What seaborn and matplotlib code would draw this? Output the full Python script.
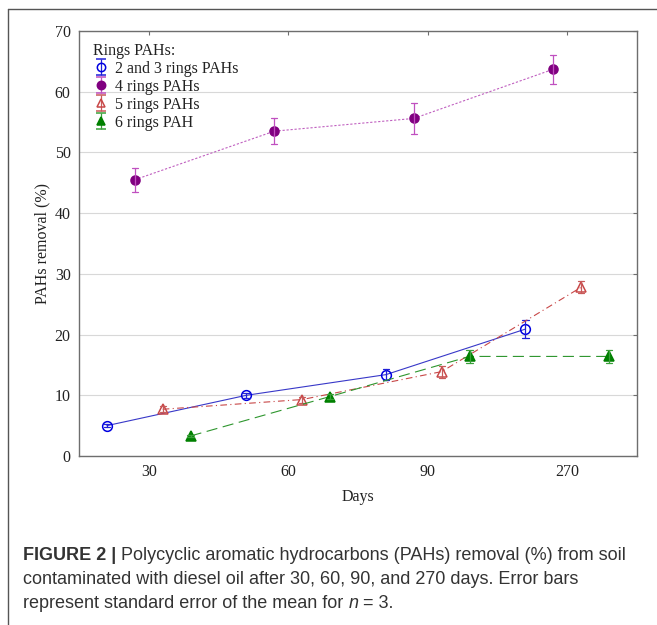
import numpy as np
import pandas as pd
import seaborn as sns
import matplotlib
matplotlib.use("Agg")
import matplotlib.pyplot as plt
from matplotlib.lines import Line2D

# ---------------- data ----------------
days = ["30", "60", "90", "270"]
series = ["2 and 3 rings PAHs", "4 rings PAHs", "5 rings PAHs", "6 rings PAH"]

ring23 = [5.0, 10.0, 13.4, 20.9]
ring23_se = [0.3, 0.4, 0.9, 1.5]
ring4 = [45.5, 53.5, 55.6, 63.7]
ring4_se = [2.0, 2.1, 2.5, 2.4]
ring5 = [7.7, 9.3, 13.9, 27.8]
ring5_se = [0.5, 0.5, 1.0, 1.0]
ring6 = [3.3, 9.8, 16.4, 16.4]
ring6_se = [0.15, 0.4, 1.1, 1.1]

y_ticks = [0, 10, 20, 30, 40, 50, 60, 70]

means = {series[0]: ring23, series[1]: ring4, series[2]: ring5, series[3]: ring6}
ses = {series[0]: ring23_se, series[1]: ring4_se, series[2]: ring5_se, series[3]: ring6_se}

# long table: each point stored as (mean - se, mean + se) so that
# mean estimator gives the value and the 100% interval gives the error bar
rows = []
for s in series:
    for d, m, e in zip(days, means[s], ses[s]):
        rows.append({"Days": d, "removal": m - e, "Rings": s})
        rows.append({"Days": d, "removal": m + e, "Rings": s})
df = pd.DataFrame(rows)

# ---------------- style ----------------
sns.set_theme(style="white")
plt.rcParams["font.family"] = ["Liberation Serif", "DejaVu Serif"]

line_col = {series[0]: "#3838c8", series[1]: "#c060c0", series[2]: "#c84848", series[3]: "#2e962e"}
mark_edge = {series[0]: "#0000e0", series[1]: "#800080", series[2]: "#c84848", series[3]: "#008000"}
mark_face = {series[0]: "none", series[1]: "#800080", series[2]: "none", series[3]: "#008000"}
err_col = {series[0]: "#2020d8", series[1]: "#c050c0", series[2]: "#c85a5a", series[3]: "#3aa03a"}
markers = {series[0]: "o", series[1]: "o", series[2]: "^", series[3]: "^"}
lstyles = {series[0]: "-", series[1]: (0, (2, 1.6)), series[2]: (0, (6, 3, 1, 3)), series[3]: (0, (10, 5))}
msize = {series[0]: 7.0, series[1]: 6.5, series[2]: 6.5, series[3]: 6.5}

fig = plt.figure(figsize=(6.57, 6.25), dpi=100)
ax = fig.add_axes([79 / 657, 1 - 456 / 625, (637 - 79) / 657, (456 - 31) / 625])

for s in series:
    sns.pointplot(
        data=df[df["Rings"] == s], x="Days", y="removal", hue="Rings",
        order=days, hue_order=series, palette=line_col,
        estimator="mean", errorbar=("pi", 100), dodge=0.6,
        markers=markers[s], linestyles=lstyles[s], capsize=0.045,
        err_kws={"linewidth": 0.9, "color": err_col[s], "linestyle": "-"},
        linewidth=0.8, markersize=msize[s], markeredgewidth=1.1,
        markeredgecolor=mark_edge[s], markerfacecolor=mark_face[s],
        legend=False, ax=ax,
    )

ax.set_ylim(0, 70)
ax.set_xlim(-0.5, 3.5)
ax.set_yticks(y_ticks)
ax.yaxis.grid(True, color="#d8d8d8", linewidth=0.8)
ax.xaxis.grid(False)
ax.set_axisbelow(True)
for sp in ax.spines.values():
    sp.set_color("#6e6e6e")
    sp.set_linewidth(1.0)
    sp.set_visible(True)
ax.tick_params(axis="both", direction="in", length=3, width=0.8, color="#6e6e6e",
               labelsize=11.5, labelcolor="#222222", top=True, right=True,
               labeltop=False, labelright=False, pad=6)
ax.set_xlabel("Days", fontsize=11.5, color="#222222", labelpad=6)
ax.set_ylabel("PAHs removal (%)", fontsize=11.5, color="#222222", labelpad=3)

# legend with error-bar style handles
handles = []
for s in series:
    h = ax.errorbar([np.nan], [np.nan], yerr=[[1.0], [1.0]], fmt=markers[s],
                    color=mark_edge[s], ecolor=err_col[s], mfc=mark_face[s],
                    mec=mark_edge[s], ms=6, mew=1.1, elinewidth=0.9,
                    capsize=3.5, capthick=0.9, label=s)
    handles.append(h)
leg = ax.legend(handles=handles, labels=series, title="Rings PAHs:",
                loc="upper left", bbox_to_anchor=(0.025, 0.972), frameon=False,
                fontsize=11.5, title_fontsize=11.5, handlelength=1.0,
                handletextpad=0.35, labelspacing=0.12, borderpad=0,
                borderaxespad=0, alignment="left")
for t in leg.get_texts():
    t.set_color("#222222")
leg.get_title().set_color("#222222")

# outer frame (left and top edges)
fig.add_artist(Line2D([8 / 657, 8 / 657], [0, 1 - 9 / 625], transform=fig.transFigure,
                      color="#555555", linewidth=1.0))
fig.add_artist(Line2D([8 / 657, 1], [1 - 9 / 625, 1 - 9 / 625], transform=fig.transFigure,
                      color="#555555", linewidth=1.0))

# caption
cap_font = ["Liberation Sans", "DejaVu Sans"]
cap_size = 13.0
fig.canvas.draw()
renderer = fig.canvas.get_renderer()


def place(pieces, x_px, y_px):
    x = x_px
    for txt, kw in pieces:
        t = fig.text(x / 657, 1 - y_px / 625, txt, fontsize=cap_size, family=cap_font,
                     color="#333333", va="center", ha="left", **kw)
        bb = t.get_window_extent(renderer=renderer)
        x = bb.x1


place([("FIGURE 2 |", {"weight": "bold"}),
       (" Polycyclic aromatic hydrocarbons (PAHs) removal (%) from soil", {})], 23, 555)
place([("contaminated with diesel oil after 30, 60, 90, and 270 days. Error bars", {})], 23, 579)
place([("represent standard error of the mean for ", {}), ("n", {"style": "italic"}),
       (" = 3.", {})], 23, 603)

fig.savefig("out.png", dpi=100)
